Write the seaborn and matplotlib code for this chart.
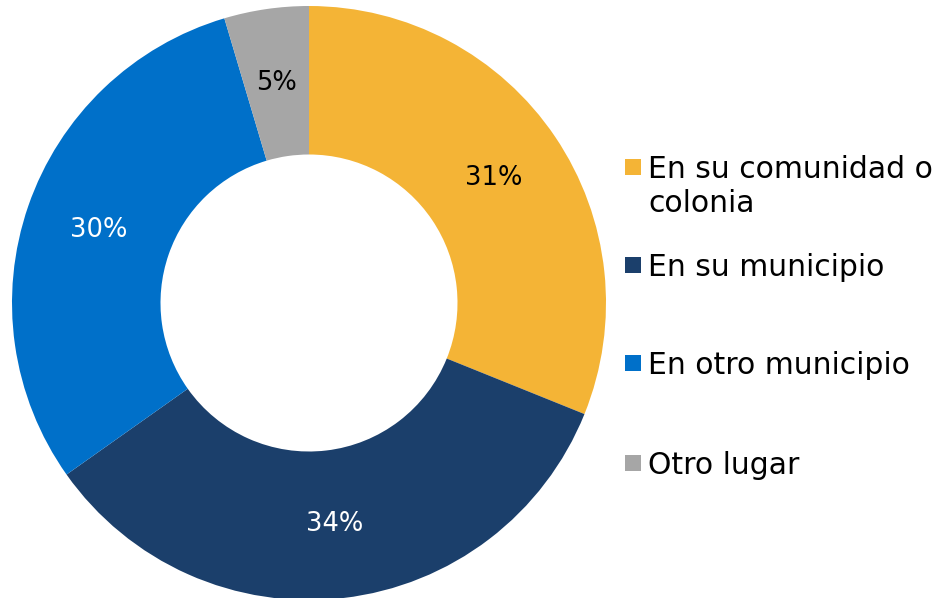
import matplotlib.pyplot as plt
import seaborn as sns
from matplotlib.patches import Rectangle

# datos
categorias = ["En su comunidad o\ncolonia", "En su municipio", "En otro municipio", "Otro lugar"]
porcentajes = [31.1, 34.1, 30.2, 4.6]
colores = ["#F4B436", "#1B3F6B", "#0070C9", "#A6A6A6"]
color_etiqueta = ["black", "white", "white", "black"]

sns.set_theme(style="white")
plt.rcParams["font.family"] = ["DejaVu Sans"]

fig = plt.figure(figsize=(9.4, 5.98), dpi=100)
ax = fig.add_axes([12 / 940, -2 / 598, 594 / 940, 594 / 598])

wedges, _, autotexts = ax.pie(
    porcentajes,
    colors=colores,
    startangle=90,
    counterclock=False,
    autopct="%1.0f%%",
    pctdistance=0.75,
    wedgeprops=dict(width=0.5, linewidth=0),
    textprops=dict(fontsize=18.5),
)
for t, c in zip(autotexts, color_etiqueta):
    t.set_color(c)
ax.set_xlim(-1, 1)
ax.set_ylim(-1, 1)
ax.set_aspect("equal")
ax.axis("off")

# leyenda manual (marcador alineado con la primera línea)
ys = [167, 265, 363, 463]
for lab, col, y in zip(categorias, colores, ys):
    yf = 1 - y / 598
    extra = 34 * lab.count("\n")
    fig.add_artist(Rectangle((625 / 940, yf - 8 / 598), 16 / 940, 16 / 598,
                             transform=fig.transFigure, facecolor=col, edgecolor="none"))
    fig.text(648 / 940, yf - (11 + extra) / 598, lab, fontsize=21.5, va="baseline",
             ha="left", color="black", linespacing=1.2)

fig.savefig("out.png", dpi=100)
